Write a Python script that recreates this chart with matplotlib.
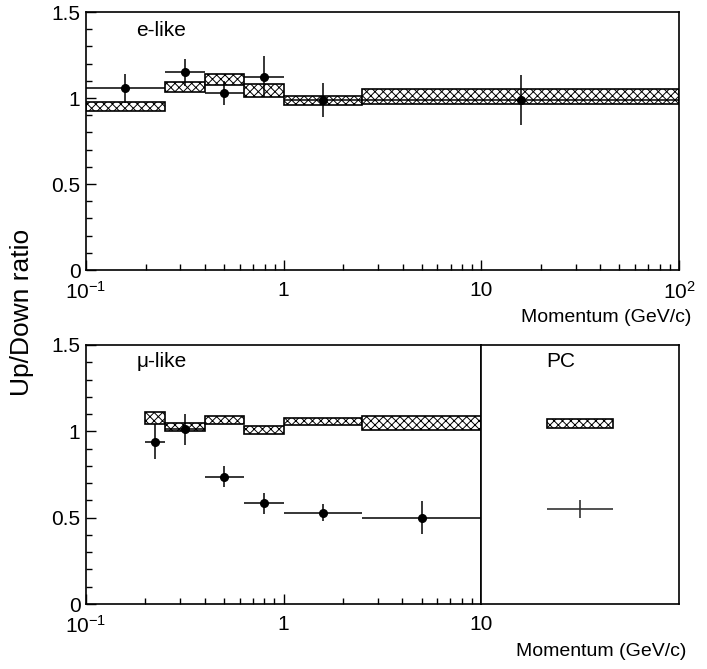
import matplotlib.pyplot as plt
from matplotlib.ticker import FixedLocator, FixedFormatter, MultipleLocator, LogLocator, NullFormatter

plt.rcParams['font.family'] = ['Liberation Sans', 'DejaVu Sans']
plt.rcParams['mathtext.default'] = 'regular'
plt.rcParams['hatch.linewidth'] = 0.7

# e-like sample
e_edges = [0.1, 0.25, 0.4, 0.63, 1.0, 2.5, 100]
e_x = [0.158, 0.316, 0.5, 0.794, 1.58, 15.8]
e_ratio = [1.056, 1.149, 1.029, 1.124, 0.988, 0.99]
e_err = [0.085, 0.08, 0.07, 0.12, 0.1, 0.145]
e_mc = [0.952, 1.062, 1.107, 1.044, 0.986, 1.01]
e_mc_err = [0.026, 0.029, 0.031, 0.036, 0.027, 0.045]

# mu-like sample
mu_edges = [0.2, 0.25, 0.4, 0.63, 1.0, 2.5, 10]
mu_x = [0.223, 0.316, 0.5, 0.794, 1.58, 5.0]
mu_ratio = [0.94, 1.013, 0.737, 0.583, 0.529, 0.5]
mu_err = [0.1, 0.09, 0.06, 0.06, 0.05, 0.095]
mu_mc = [1.076, 1.023, 1.066, 1.008, 1.056, 1.048]
mu_mc_err = [0.034, 0.023, 0.022, 0.024, 0.021, 0.041]

# partially contained
pc_ratio = 0.55
pc_err = 0.053
pc_mc = 1.043
pc_mc_err = 0.026

y_ticks = [0, 0.5, 1, 1.5]
y_labels = ['0', '0.5', '1', '1.5']


def style_y(ax):
    ax.set_ylim(0, 1.5)
    ax.yaxis.set_major_locator(FixedLocator(y_ticks))
    ax.yaxis.set_major_formatter(FixedFormatter(y_labels))
    ax.yaxis.set_minor_locator(MultipleLocator(0.1))
    ax.tick_params(axis='both', which='both', direction='in', top=False, right=False,
                   labelsize=15, width=1.0)
    ax.tick_params(axis='y', which='major', length=7, pad=4)
    ax.tick_params(axis='x', which='major', length=7, pad=8)
    ax.tick_params(axis='both', which='minor', length=4)
    for s in ax.spines.values():
        s.set_linewidth(1.2)


def draw_sample(ax, edges, x, ratio, err, mc, mc_err):
    lefts = edges[:-1]
    widths = [edges[i + 1] - edges[i] for i in range(len(edges) - 1)]
    bottoms = [m - e for m, e in zip(mc, mc_err)]
    heights = [2 * e for e in mc_err]
    ax.bar(lefts, heights, bottom=bottoms, width=widths, align='edge',
           facecolor='white', edgecolor='black', hatch='xxxx', linewidth=1.2, zorder=1)
    xlo = [xi - lo for xi, lo in zip(x, edges[:-1])]
    xhi = [hi - xi for xi, hi in zip(x, edges[1:])]
    ax.errorbar(x, ratio, yerr=err, xerr=[xlo, xhi], fmt='o', color='black',
                markersize=5.5, elinewidth=1.1, capsize=0, zorder=3)


fig = plt.figure(figsize=(7.07, 6.69), dpi=100)

# top panel
ax1 = fig.add_axes([86 / 707, 1 - 270 / 669, 593 / 707, 258 / 669])
ax1.set_xscale('log')
ax1.set_xlim(0.1, 100)
draw_sample(ax1, e_edges, e_x, e_ratio, e_err, e_mc, e_mc_err)
style_y(ax1)
ax1.xaxis.set_major_locator(FixedLocator([0.1, 1, 10, 100]))
ax1.xaxis.set_major_formatter(FixedFormatter(['$10^{-1}$', '1', '10', '$10^{2}$']))
ax1.xaxis.set_minor_locator(LogLocator(base=10, subs=range(2, 10)))
ax1.xaxis.set_minor_formatter(NullFormatter())
ax1.text(0.085, 0.93, 'e-like', transform=ax1.transAxes, fontsize=15, va='center')

# bottom panel, FC mu-like
ax2 = fig.add_axes([86 / 707, 1 - 604 / 669, 395 / 707, 259 / 669])
ax2.set_xscale('log')
ax2.set_xlim(0.1, 10)
draw_sample(ax2, mu_edges, mu_x, mu_ratio, mu_err, mu_mc, mu_mc_err)
style_y(ax2)
ax2.xaxis.set_major_locator(FixedLocator([0.1, 1, 10]))
ax2.xaxis.set_major_formatter(FixedFormatter(['$10^{-1}$', '1', '10']))
ax2.xaxis.set_minor_locator(LogLocator(base=10, subs=range(2, 10)))
ax2.xaxis.set_minor_formatter(NullFormatter())
ax2.text(0.127, 0.935, '\u03bc-like', transform=ax2.transAxes, fontsize=15, va='center')

# PC panel
ax3 = fig.add_axes([481 / 707, 1 - 604 / 669, 198 / 707, 259 / 669])
ax3.set_xlim(0, 1)
ax3.set_ylim(0, 1.5)
ax3.bar([1 / 3], [2 * pc_mc_err], bottom=[pc_mc - pc_mc_err], width=1 / 3, align='edge',
        facecolor='white', edgecolor='black', hatch='xxxx', linewidth=1.2, zorder=1)
ax3.errorbar([0.5], [pc_ratio], yerr=[pc_err], xerr=[1 / 6], fmt='none',
             ecolor='#333333', elinewidth=1.2, capsize=0, zorder=3)
ax3.set_xticks([])
ax3.set_yticks([])
for s in ax3.spines.values():
    s.set_linewidth(1.2)
ax3.text(0.33, 0.935, 'PC', transform=ax3.transAxes, fontsize=15, va='center')

fig.text(691 / 707, 1 - 317 / 669, 'Momentum (GeV/c)', ha='right', va='center', fontsize=14)
fig.text(686 / 707, 1 - 652 / 669, 'Momentum (GeV/c)', ha='right', va='center', fontsize=14)
fig.text(22 / 707, 1 - 312 / 669, 'Up/Down ratio', rotation=90, ha='center', va='center',
         fontsize=19)

fig.savefig('out.png', dpi=100)
